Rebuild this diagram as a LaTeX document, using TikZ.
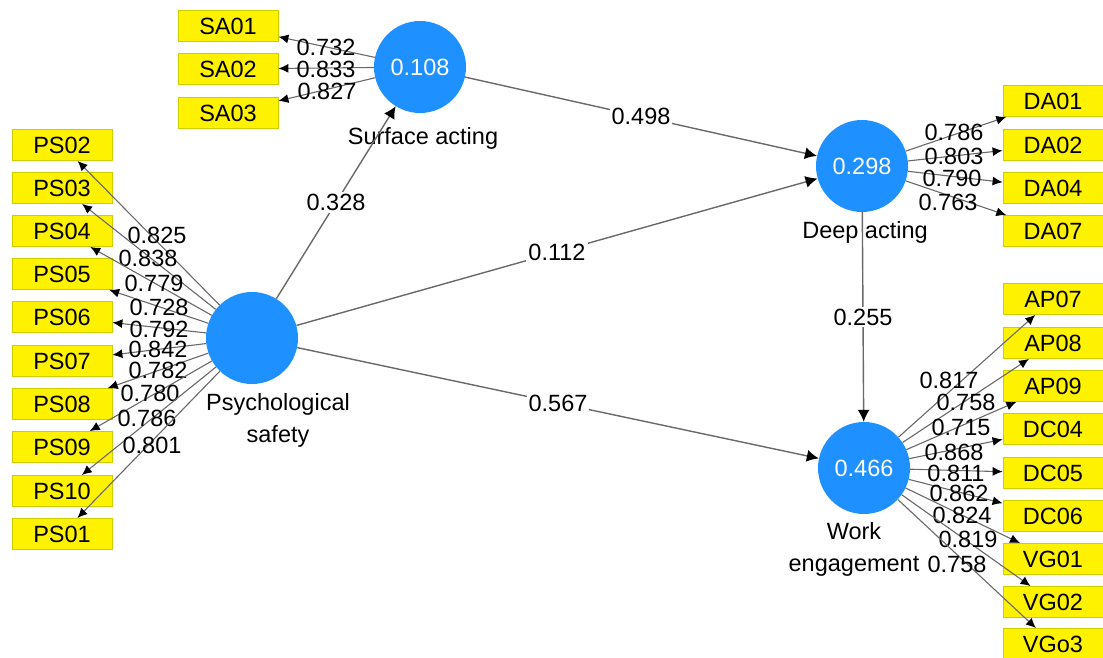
\documentclass[tikz,border=0pt]{standalone}
\usepackage{fontspec}
\setmainfont{Liberation Sans}
\usetikzlibrary{arrows.meta}
\definecolor{lvblue}{RGB}{30,144,255}
\definecolor{boxedge}{RGB}{205,205,0}
\definecolor{linegray}{RGB}{105,105,105}
\tikzset{
  latent/.style={circle, fill=lvblue, minimum size=92pt, inner sep=0pt, text=white},
  item/.style={rectangle, fill=yellow, draw=boxedge, line width=0.8pt,
    minimum width=100pt, minimum height=31pt, inner sep=0pt},
  load/.style={draw=linegray, line width=1.1pt, -{Latex[length=10pt,width=9pt,color=black]}},
  struct/.style={draw=linegray, line width=1.4pt, -{Latex[length=12pt,width=12pt,color=black]}},
  val/.style={inner sep=0pt},
  coef/.style={fill=white, inner sep=2pt},
  lvname/.style={inner sep=0pt, align=center}
}
\begin{document}
\begin{tikzpicture}[x=1pt, y=-1pt, font=\fontsize{23.5}{32}\selectfont]
\useasboundingbox (0,0) rectangle (1103,658);
% latent variables
\node[latent] (SA) at (420,67) {0.108};
\node[latent] (PS) at (252,338) {};
\node[latent] (DA) at (862,166) {0.298};
\node[latent] (WE) at (864,468) {0.466};
\node[lvname, anchor=base] (SAname) at (423,145) {Surface acting};
\node[lvname, anchor=north] (PSname) at (278,393) {Psychological\\safety};
\node[lvname, anchor=base] (DAname) at (865,238) {Deep acting};
\node[lvname, anchor=north] (WEname) at (854,522) {Work\\engagement};
% indicators
\foreach \b/\t/\y in {sa01/SA01/26, sa02/SA02/69, sa03/SA03/113}
  \node[item] (\b) at (228,\y) {\t};
\foreach \b/\t/\y in {ps02/PS02/145, ps03/PS03/188, ps04/PS04/231, ps05/PS05/274,
  ps06/PS06/317, ps07/PS07/361, ps08/PS08/404, ps09/PS09/447, ps10/PS10/491, ps01/PS01/534}
  \node[item] (\b) at (62,\y) {\t};
\foreach \b/\t/\y in {da01/DA01/101, da02/DA02/145, da04/DA04/188, da07/DA07/231}
  \node[item] (\b) at (1053,\y) {\t};
\foreach \b/\t/\y in {ap07/AP07/299, ap08/AP08/343, ap09/AP09/386, dc04/DC04/429,
  dc05/DC05/473, dc06/DC06/516, vg01/VG01/559, vg02/VG02/602, vg03/VGo3/644}
  \node[item] (\b) at (1053,\y) {\t};
% outer loadings
\foreach \b/\v/\x/\y in {sa01/0.732/326/47, sa02/0.833/326/69, sa03/0.827/327/91}{
  \draw[load] (SA) -- (\b);
  \node[val] (l\b) at (\x,\y) {\v};
}
\foreach \b/\v/\x/\y in {ps02/0.825/157/235, ps03/0.838/148/258, ps04/0.779/154/283,
  ps05/0.728/159/307, ps06/0.792/159/329, ps07/0.842/158/349, ps08/0.782/158/370,
  ps09/0.780/150/393, ps10/0.786/147/418, ps01/0.801/152/445}{
  \draw[load] (PS) -- (\b);
  \node[val] (l\b) at (\x,\y) {\v};
}
\foreach \b/\v/\x/\y in {da01/0.786/954/132, da02/0.803/954/156, da04/0.790/952/178,
  da07/0.763/948/202}{
  \draw[load] (DA) -- (\b);
  \node[val] (l\b) at (\x,\y) {\v};
}
\foreach \b/\v/\x/\y in {ap07/0.817/949/380, ap08/0.758/966/402, ap09/0.715/961/427,
  dc04/0.868/954/452, dc05/0.811/956/473, dc06/0.862/959/493, vg01/0.824/962/515,
  vg02/0.819/968/539, vg03/0.758/957/564}{
  \draw[load] (WE) -- (\b);
  \node[val] (l\b) at (\x,\y) {\v};
}
% inner model
\draw[struct] (PS) -- node[coef] (cPSSA) {0.328} (SA);
\draw[struct] (SA) -- node[coef] (cSADA) {0.498} (DA);
\draw[struct] (PS) -- node[coef] (cPSDA) {0.112} (DA);
\draw[struct] (PS) -- node[coef] (cPSWE) {0.567} (WE);
\draw[struct] (DA) -- node[coef] (cDAWE) {0.255} (WE);
\end{tikzpicture}
\end{document}
